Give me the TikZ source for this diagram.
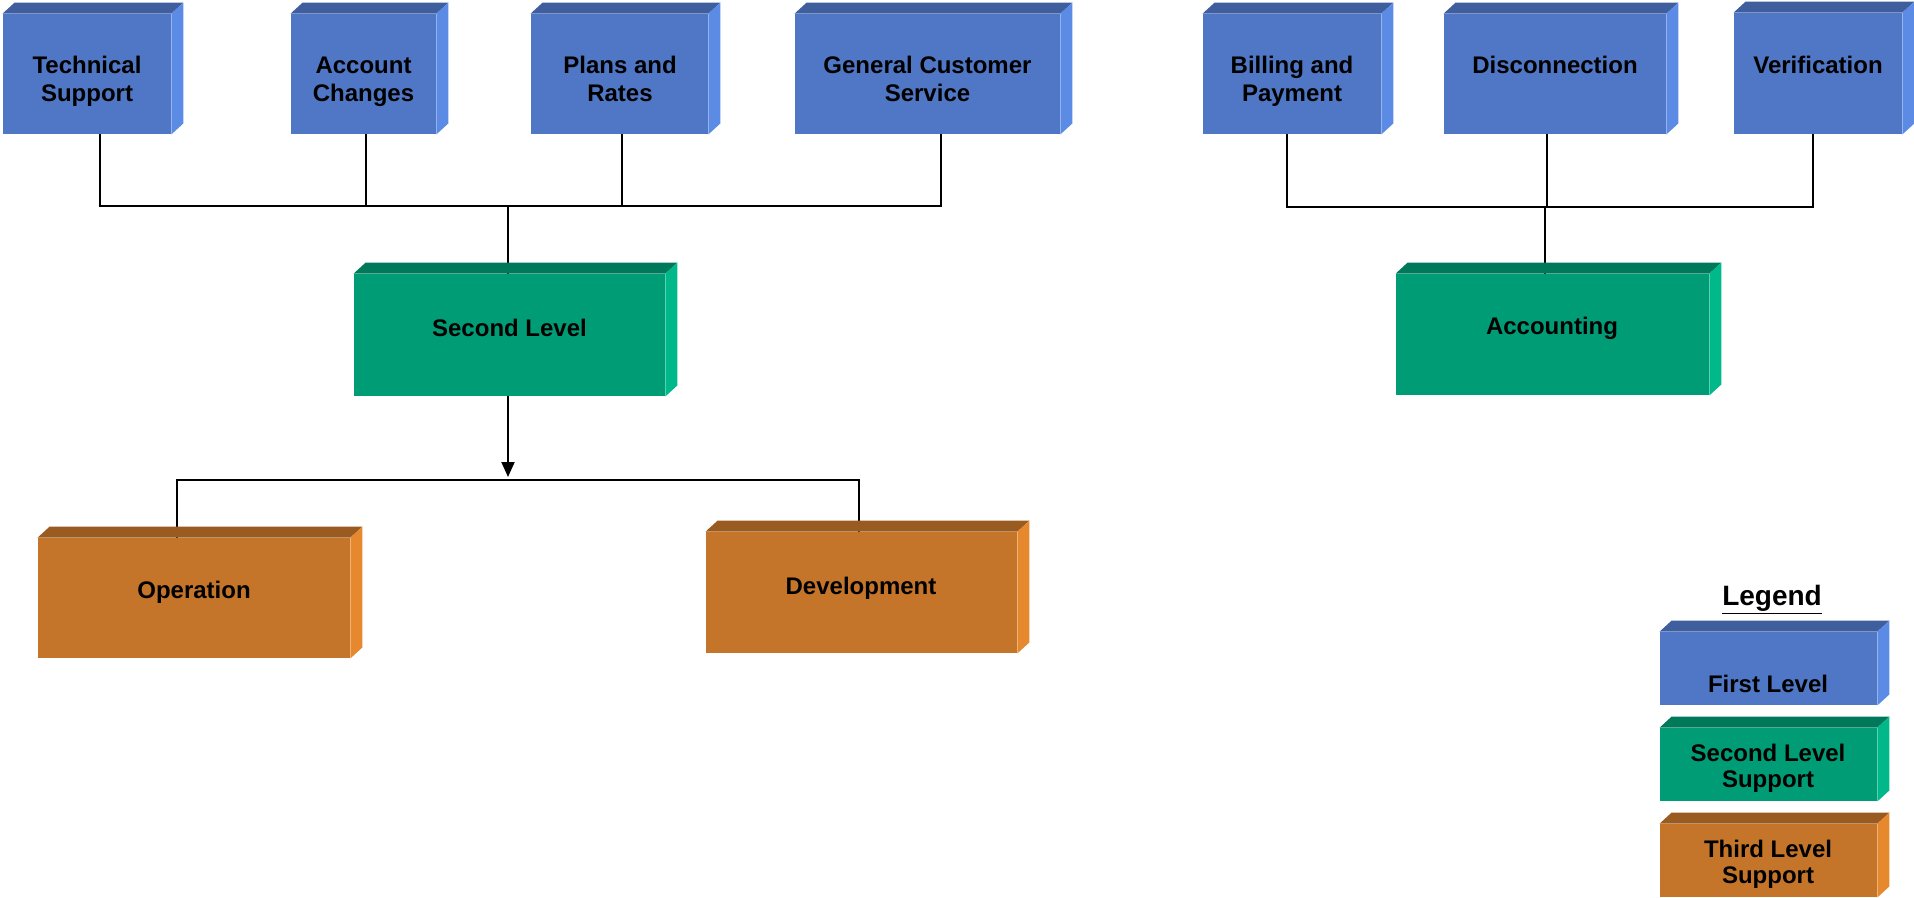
\documentclass[tikz,border=0pt]{standalone}
\usepackage{fontspec}
\setmainfont{Liberation Sans}
\usetikzlibrary{arrows.meta,backgrounds}
\definecolor{blueF}{RGB}{79,119,197}
\definecolor{blueT}{RGB}{62,94,158}
\definecolor{blueS}{RGB}{92,139,229}
\definecolor{greenF}{RGB}{0,156,118}
\definecolor{greenT}{RGB}{0,121,90}
\definecolor{greenS}{RGB}{0,184,138}
\definecolor{orangeF}{RGB}{197,117,41}
\definecolor{orangeT}{RGB}{154,91,32}
\definecolor{orangeS}{RGB}{230,137,46}
\newcommand\mycube[6]{%
  \node[inner sep=0pt, fill=#6F, minimum width={(#4-#2)*0.5pt}, minimum height={(#5-#3)*0.5pt}]
    (#1) at ({(#2+#4)/2},{(#3+#5)/2}) {};
  \fill[#6T] (#1.north west) -- ++(12,-11) -- ([shift={(12,-11)}]#1.north east) -- (#1.north east) -- cycle;
  \fill[#6S] (#1.north east) -- ([shift={(12,-11)}]#1.north east) -- ([shift={(12,-11)}]#1.south east) -- (#1.south east) -- cycle;
}
\begin{document}
\begin{tikzpicture}[x=0.5pt,y=-0.5pt,
  conn/.style={line width=1pt,black},
  txt/.style={font=\bfseries\fontsize{12}{14}\selectfont, align=center, inner sep=0pt, anchor=base},
  ltxt/.style={font=\bfseries\fontsize{12}{13}\selectfont, align=center, inner sep=0pt, anchor=base}]
\useasboundingbox (0,0) rectangle (1914,898);

% first level
\mycube{ts}{3}{14}{171}{134}{blue}
\mycube{ac}{291}{14}{436}{134}{blue}
\mycube{pr}{531}{14}{708}{134}{blue}
\mycube{gcs}{795}{14}{1060}{134}{blue}
\mycube{bp}{1203}{14}{1381}{134}{blue}
\mycube{dc}{1444}{14}{1666}{134}{blue}
\mycube{vf}{1734}{13}{1902}{134}{blue}
% second level
\mycube{sl}{354}{274}{665}{396}{green}
\mycube{acc}{1396}{274}{1709}{395}{green}
% third level
\mycube{op}{38}{538}{350}{658}{orange}
\mycube{dv}{706}{532}{1017}{653}{orange}
% legend
\mycube{lg1}{1660}{632}{1877}{705}{blue}
\mycube{lg2}{1660}{728}{1877}{801}{green}
\mycube{lg3}{1660}{824}{1877}{897}{orange}

% texts (multi-line nodes: base is the last line)
\node[txt] (ts-t) at (87,102) {Technical\\Support};
\node[txt] (ac-t) at (363.5,102) {Account\\Changes};
\node[txt] (pr-t) at (620,102) {Plans and\\Rates};
\node[txt] (gcs-t) at (927.5,102) {General Customer\\Service};
\node[txt] (bp-t) at (1292,102) {Billing and\\Payment};
\node[txt] (dc-t) at (1555,74) {Disconnection};
\node[txt] (vf-t) at (1818,74) {Verification};
\node[txt] (sl-t) at (509.5,336) {Second Level};
\node[txt] (acc-t) at (1552,335) {Accounting};
\node[txt] (op-t) at (194,598) {Operation};
\node[txt] (dv-t) at (861,594) {Development};
\node[txt, font=\bfseries\fontsize{14}{16}\selectfont] (lg-title) at (1772,605) {\underline{Legend}};
\node[ltxt] (lg1-t) at (1768,692) {First Level};
\node[ltxt] (lg2-t) at (1768,787) {Second Level\\Support};
\node[ltxt] (lg3-t) at (1768,883) {Third Level\\Support};

% connectors
\coordinate (busAm) at (508,206);
\coordinate (busBm) at (1545,207);
\coordinate (arrEnd) at (508,477);
\coordinate (busCL) at (177,480);
\coordinate (busCR) at (859,480);
\begin{scope}[on background layer]
\draw[conn] ([xshift=6.5pt]ts.south) |- ([xshift=6.5pt]gcs.south |- busAm) -- ([xshift=6.5pt]gcs.south);
\draw[conn] ([xshift=1.25pt]ac.south) -- ([xshift=1.25pt]ac.south |- busAm);
\draw[conn] ([xshift=1pt]pr.south) -- ([xshift=1pt]pr.south |- busAm);
\draw[conn] (busAm) -- (busAm |- sl.north);
\draw[conn] ([xshift=-2.5pt]bp.south) |- ([xshift=-2.75pt]vf.south |- busBm) -- ([xshift=-2.75pt]vf.south);
\draw[conn] ([xshift=-4pt]dc.south) -- ([xshift=-4pt]dc.south |- busBm);
\draw[conn] (busBm) -- (busBm |- acc.north);
\draw[conn] (busCL |- op.north) -- (busCL) -- (busCR) -- (busCR |- dv.north);
\end{scope}
\draw[conn,-{Triangle[length=7.5pt,width=6.5pt]}] (arrEnd |- sl.south) -- (arrEnd);
\end{tikzpicture}
\end{document}
